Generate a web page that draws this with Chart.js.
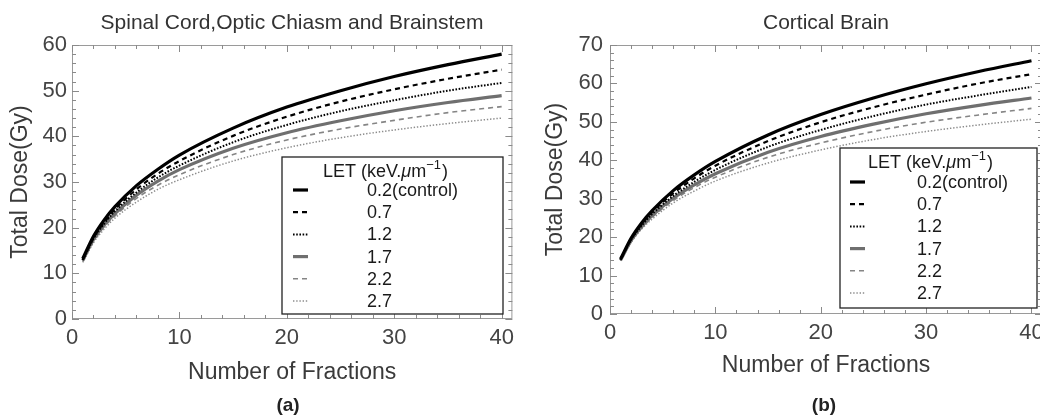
<!DOCTYPE html>
<html>
<head>
<meta charset="utf-8">
<script src="https://cdn.jsdelivr.net/npm/chart.js@4.4.1/dist/chart.umd.min.js"></script>
<style>
  html, body { margin: 0; padding: 0; background: #fff; }
  body { width: 1040px; height: 416px; overflow: hidden; position: relative; font-family: "Liberation Sans", Arial, sans-serif; }
  canvas { position: absolute; top: 0; }
  #cLeft { left: 0; }
  #cRight { left: 520px; }
  .ttl { position: absolute; color: #333; font-size: 21px; white-space: nowrap; transform: translateX(-50%); }
  .sub { position: absolute; color: #222; font-size: 19px; font-weight: bold; white-space: nowrap; transform: translateX(-50%); }
</style>
</head>
<body>
<canvas id="cLeft" width="520" height="416"></canvas>
<canvas id="cRight" width="540" height="416"></canvas>
<div class="ttl" style="left:292px; top:10px">Spinal Cord,Optic Chiasm and Brainstem</div>
<div class="ttl" style="left:826px; top:10px">Cortical Brain</div>
<div class="sub" style="left:288px; top:394px">(a)</div>
<div class="sub" style="left:824px; top:394px">(b)</div>

<script>
// Number of fractions (x) and LET levels
const fractions = [1, 2, 3, 4, 6, 8, 10, 15, 20, 25, 30, 35, 40];
const letLabels = ['0.2(control)', '0.7', '1.2', '1.7', '2.2', '2.7'];

// (a) Spinal Cord, Optic Chiasm and Brainstem — total dose (Gy)
const spinal02 = [13.2, 18.1, 21.7, 24.6, 29.2, 32.8, 35.9, 41.8, 46.4, 50.0, 53.1, 55.7, 58.0];
const spinal07 = [13.0, 17.8, 21.2, 24.0, 28.4, 31.8, 34.6, 40.1, 44.3, 47.6, 50.3, 52.6, 54.6];
const spinal12 = [12.9, 17.6, 20.9, 23.6, 27.7, 31.0, 33.6, 38.7, 42.5, 45.5, 47.9, 50.0, 51.7];
const spinal17 = [12.8, 17.4, 20.6, 23.1, 27.1, 30.2, 32.7, 37.4, 40.8, 43.4, 45.6, 47.4, 48.9];
const spinal22 = [12.6, 17.0, 20.2, 22.6, 26.4, 29.3, 31.6, 36.0, 39.2, 41.6, 43.5, 45.2, 46.5];
const spinal27 = [12.4, 16.7, 19.7, 22.1, 25.6, 28.4, 30.5, 34.6, 37.5, 39.7, 41.4, 42.8, 44.0];

// (b) Cortical Brain — total dose (Gy)
const cortical02 = [14.3, 19.7, 23.7, 26.9, 32.1, 36.2, 39.7, 46.6, 51.9, 56.2, 59.9, 63.1, 65.9];
const cortical07 = [14.2, 19.5, 23.4, 26.5, 31.4, 35.3, 38.6, 45.0, 49.9, 53.8, 57.1, 60.0, 62.4];
const cortical12 = [14.1, 19.3, 23.0, 26.0, 30.7, 34.4, 37.5, 43.5, 47.9, 51.5, 54.5, 56.9, 59.1];
const cortical17 = [14.0, 19.1, 22.7, 25.6, 30.1, 33.6, 36.5, 42.1, 46.2, 49.4, 52.1, 54.3, 56.2];
const cortical22 = [13.9, 18.9, 22.4, 25.2, 29.5, 32.9, 35.6, 40.8, 44.5, 47.5, 49.9, 51.8, 53.5];
const cortical27 = [13.8, 18.6, 22.1, 24.7, 28.9, 32.0, 34.6, 39.3, 42.7, 45.4, 47.5, 49.2, 50.7];

// tick labels
const xTicks = [0, 10, 20, 30, 40];
const spinalYTicks = [0, 10, 20, 30, 40, 50, 60];
const corticalYTicks = [0, 10, 20, 30, 40, 50, 60, 70];

const FONT = '"Liberation Sans", Arial, sans-serif';

// line look for each LET level (same order as letLabels)
const lineStyles = [
  { color: '#000000', width: 3.2, dash: [] },
  { color: '#000000', width: 2.2, dash: [5, 4] },
  { color: '#000000', width: 2.0, dash: [1.6, 1.6] },
  { color: '#6f6f6f', width: 3.2, dash: [] },
  { color: '#858585', width: 1.6, dash: [5, 4] },
  { color: '#8c8c8c', width: 1.5, dash: [1.4, 1.8] },
];

function toPoints(values) {
  return fractions.map((n, i) => ({ x: n, y: values[i] }));
}

// Mathematica-like frame with inward ticks + the inset LET legend
const framePlugin = {
  id: 'frameLegend',
  beforeDatasetsDraw(chart) {
    const { ctx, chartArea: a, scales: { x, y } } = chart;
    ctx.save();
    ctx.strokeStyle = '#9a9a9a';
    ctx.lineWidth = 1;
    ctx.strokeRect(a.left + 0.5, a.top + 0.5, a.right - a.left - 1, a.bottom - a.top - 1);
    ctx.strokeStyle = '#8a8a8a';
    ctx.beginPath();
    for (let v = 0; v <= x.max; v += 2) {
      const px = Math.round(x.getPixelForValue(v)) + 0.5;
      const len = v % 10 === 0 ? 7 : 4;
      ctx.moveTo(px, a.bottom); ctx.lineTo(px, a.bottom - len);
      ctx.moveTo(px, a.top); ctx.lineTo(px, a.top + len);
    }
    for (let v = 0; v <= y.max; v += 2) {
      const py = Math.round(y.getPixelForValue(v)) + 0.5;
      const len = v % 10 === 0 ? 7 : 4;
      ctx.moveTo(a.left, py); ctx.lineTo(a.left + len, py);
      ctx.moveTo(a.right, py); ctx.lineTo(a.right - len, py);
    }
    ctx.stroke();
    ctx.restore();
  },
  afterDatasetsDraw(chart, args, o) {
    const { ctx } = chart;
    const b = o.box;
    ctx.save();
    ctx.fillStyle = '#fff';
    ctx.fillRect(b.x, b.y, b.w, b.h);
    ctx.strokeStyle = '#222';
    ctx.lineWidth = 1.3;
    ctx.strokeRect(b.x, b.y, b.w, b.h);

    // header: LET (keV.μm^-1)
    ctx.fillStyle = '#1a1a1a';
    ctx.textBaseline = 'alphabetic';
    let hx = b.x + o.headX;
    const hy = b.y + o.headY;
    const parts = [
      ['LET (keV.', '18px ' + FONT, 0],
      ['\u03bc', 'italic 18px ' + FONT, 0],
      ['m', '18px ' + FONT, 0],
      ['\u22121', '13px ' + FONT, -8],
      [')', '18px ' + FONT, 0],
    ];
    parts.forEach(([t, f, dy]) => {
      ctx.font = f;
      ctx.fillText(t, hx, hy + dy);
      hx += ctx.measureText(t).width + (dy ? 1 : 0);
    });

    ctx.font = '18px ' + FONT;
    ctx.textBaseline = 'middle';
    chart.data.datasets.forEach((ds, i) => {
      const ry = b.y + o.rowY + i * o.rowStep;
      ctx.strokeStyle = ds.borderColor;
      ctx.lineWidth = ds.borderWidth;
      ctx.setLineDash(ds.borderDash);
      ctx.beginPath();
      ctx.moveTo(b.x + o.sampleX, ry);
      ctx.lineTo(b.x + o.sampleX + 15, ry);
      ctx.stroke();
      ctx.setLineDash([]);
      ctx.fillText(ds.label, b.x + o.textX, ry + 1);
    });
    ctx.restore();
  },
};

function makeChart(id, seriesList, yTicks, yMax, geo) {
  const W = document.getElementById(id).width;
  const datasets = seriesList.map((vals, i) => ({
    label: letLabels[i],
    data: toPoints(vals),
    borderColor: lineStyles[i].color,
    borderWidth: lineStyles[i].width,
    borderDash: lineStyles[i].dash,
    pointRadius: 0,
    fill: false,
    cubicInterpolationMode: 'monotone',
  }));

  return new Chart(document.getElementById(id), {
    type: 'line',
    data: { datasets },
    options: {
      responsive: false,
      animation: false,
      layout: { padding: { top: geo.top, right: W - geo.right, left: 0, bottom: 0 } },
      plugins: {
        legend: { display: false },
        tooltip: { enabled: false },
        frameLegend: geo.legend,
      },
      scales: {
        x: {
          type: 'linear',
          min: 0,
          max: 41,
          afterBuildTicks: s => { s.ticks = xTicks.map(v => ({ value: v })); },
          afterFit: s => { s.height = 416 - geo.bottom; },
          grid: { display: false, drawTicks: false },
          border: { display: false },
          ticks: { color: '#444', font: { family: FONT, size: 22 }, padding: 6, maxRotation: 0 },
          title: {
            display: true,
            text: 'Number of Fractions',
            color: '#3a3a3a',
            font: { family: FONT, size: 23 },
            padding: { top: 0, bottom: geo.xTitlePad },
          },
        },
        y: {
          type: 'linear',
          min: 0,
          max: yMax,
          afterBuildTicks: s => { s.ticks = yTicks.map(v => ({ value: v })); },
          afterFit: s => { s.width = geo.left; },
          grid: { display: false, drawTicks: false },
          border: { display: false },
          ticks: { color: '#444', font: { family: FONT, size: 22 }, padding: geo.yTickPad },
          title: {
            display: true,
            text: 'Total Dose(Gy)',
            color: '#3a3a3a',
            font: { family: FONT, size: 23 },
            padding: { top: geo.yTitlePad, bottom: 0 },
          },
        },
      },
    },
    plugins: [framePlugin],
  });
}

makeChart('cLeft',
  [spinal02, spinal07, spinal12, spinal17, spinal22, spinal27],
  spinalYTicks, 60,
  {
    left: 72, right: 515, top: 45, bottom: 319,
    yTickPad: 5, yTitlePad: 7, xTitlePad: 30,
    legend: { box: { x: 282, y: 157, w: 221, h: 157 }, headX: 41, headY: 20, sampleX: 11, textX: 85, rowY: 33, rowStep: 22.2 },
  });

makeChart('cRight',
  [cortical02, cortical07, cortical12, cortical17, cortical22, cortical27],
  corticalYTicks, 70,
  {
    left: 90, right: 522, top: 45, bottom: 314,
    yTickPad: 7, yTitlePad: 22, xTitlePad: 37,
    legend: { box: { x: 320, y: 148, w: 197, h: 160 }, headX: 28, headY: 20, sampleX: 10, textX: 77, rowY: 34, rowStep: 22.2 },
  });
</script>
</body>
</html>
